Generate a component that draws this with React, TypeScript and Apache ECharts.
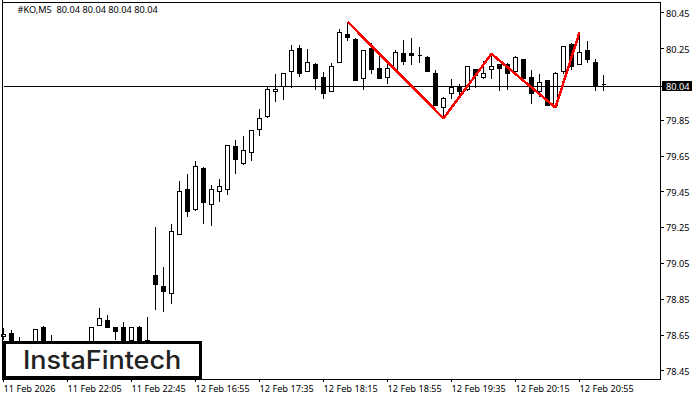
import React, { useEffect, useRef } from "react";
import * as echarts from "echarts";

const header = "#KO,M5  80.04 80.04 80.04 80.04";
const lastPrice = 80.04;
const priceTicks = [78.45, 78.65, 78.85, 79.05, 79.25, 79.45, 79.65, 79.85, 80.04, 80.25, 80.45];
const timeTicks = [
  "11 Feb 2026", "11 Feb 22:05", "11 Feb 22:45", "12 Feb 16:55", "12 Feb 17:35",
  "12 Feb 18:15", "12 Feb 18:55", "12 Feb 19:35", "12 Feb 20:15", "12 Feb 20:55",
];
const opens = [
  78.64, 78.66, 78.59, 78.58, 78.58, 78.69, 78.60, 78.58, 78.57, 78.59,
  78.58, 78.60, 78.70, 78.73, 78.69, 78.69, 78.62, 78.69, 78.62, 78.98,
  78.92, 78.88, 79.21, 79.46, 79.35, 79.58, 79.38, 79.45, 79.46, 79.70,
  79.61, 79.67, 79.80, 79.87, 80.01, 80.04, 80.12, 80.25, 80.12, 80.16,
  80.09, 80.01, 80.17, 80.33, 80.30, 80.08, 80.25, 80.14, 80.09, 80.13,
  80.22, 80.22, 80.21, 80.20, 80.11, 79.92, 80.00, 80.04, 80.02, 80.13,
  80.09, 80.13, 80.16, 80.16, 80.12, 80.19, 80.09, 80.01, 80.07, 79.93,
  80.12, 80.27, 80.16, 80.24, 80.17, 80.05,
];
const closes = [
  78.65, 78.60, 78.58, 78.56, 78.68, 78.60, 78.58, 78.57, 78.59, 78.58,
  78.60, 78.69, 78.74, 78.69, 78.67, 78.62, 78.69, 78.61, 78.61, 78.93,
  78.89, 79.23, 79.45, 79.34, 79.59, 79.39, 79.46, 79.48, 79.71, 79.63,
  79.68, 79.79, 79.86, 80.02, 80.02, 80.11, 80.24, 80.11, 80.17, 80.08,
  80.00, 80.15, 80.34, 80.31, 80.07, 80.24, 80.13, 80.08, 80.14, 80.23,
  80.18, 80.21, 80.21, 80.12, 79.93, 79.97, 80.03, 80.01, 80.15, 80.10,
  80.11, 80.15, 80.14, 80.11, 80.20, 80.08, 80.00, 80.06, 79.93, 80.11,
  80.26, 80.15, 80.23, 80.19, 80.04, 80.05,
];
const lows = [
  78.62, 78.58, 78.55, 78.54, 78.56, 78.58, 78.55, 78.55, 78.55, 78.56,
  78.56, 78.58, 78.70, 78.69, 78.62, 78.60, 78.60, 78.59, 78.59, 78.79,
  78.78, 78.82, 79.21, 79.31, 79.34, 79.27, 79.26, 79.39, 79.43, 79.55,
  79.60, 79.62, 79.76, 79.86, 79.95, 79.96, 80.03, 80.09, 80.12, 80.02,
  79.97, 80.01, 80.17, 80.29, 80.07, 80.02, 80.11, 80.08, 80.05, 80.13,
  80.16, 80.16, 80.17, 80.12, 79.93, 79.86, 79.97, 79.98, 80.01, 80.03,
  80.08, 80.08, 80.01, 80.02, 80.12, 80.08, 79.94, 79.98, 79.93, 79.93,
  80.11, 80.13, 80.16, 80.17, 80.01, 80.01,
];
const highs = [
  78.69, 78.68, 78.64, 78.60, 78.68, 78.70, 78.65, 78.60, 78.60, 78.61,
  78.61, 78.69, 78.80, 78.76, 78.69, 78.72, 78.69, 78.70, 78.75, 79.25,
  79.03, 79.27, 79.51, 79.55, 79.62, 79.59, 79.49, 79.52, 79.71, 79.74,
  79.76, 79.79, 79.91, 80.04, 80.11, 80.11, 80.27, 80.27, 80.25, 80.17,
  80.12, 80.17, 80.36, 80.40, 80.31, 80.24, 80.28, 80.22, 80.18, 80.24,
  80.30, 80.31, 80.26, 80.21, 80.13, 79.98, 80.08, 80.05, 80.15, 80.13,
  80.18, 80.22, 80.16, 80.17, 80.21, 80.19, 80.13, 80.11, 80.07, 80.12,
  80.26, 80.28, 80.34, 80.29, 80.19, 80.10,
];
const patternBars = [43, 55, 61, 69, 72];
const patternPrices = [80.40, 79.86, 80.22, 79.92, 80.34];

const BARS_ON_AXIS = 83;
const TICK_EVERY = 8;
const FONT = "'Noto Sans', Arial, sans-serif";
const FONT_SIZE = 9.2;

const frameLine = (x1: number, y1: number, x2: number, y2: number) => ({
  type: "line",
  z: 10,
  silent: true,
  shape: { x1, y1, x2, y2 },
  style: { stroke: "#000000", lineWidth: 1 },
});

export default function App() {
  const ref = useRef<HTMLDivElement>(null);
  useEffect(() => {
    document.body.style.margin = "0";
    const chart = echarts.init(ref.current!, undefined, { renderer: "svg" });
    const categories = Array.from({ length: BARS_ON_AXIS }, (_, i) => String(i));
    chart.setOption({
      animation: false,
      backgroundColor: "#ffffff",
      textStyle: { fontFamily: FONT },
      title: {
        text: header,
        left: 17.5,
        top: 5,
        padding: 0,
        textStyle: { fontFamily: FONT, fontSize: FONT_SIZE, fontWeight: "normal", color: "#000" },
      },
      grid: { left: 3.5, top: 2, width: 656, height: 377 },
      xAxis: {
        type: "category",
        data: categories,
        boundaryGap: false,
        axisLine: { show: false },
        axisTick: {
          show: true,
          interval: TICK_EVERY - 1,
          length: 3,
          lineStyle: { color: "#000", width: 1 },
        },
        axisLabel: {
          interval: TICK_EVERY - 1,
          showMinLabel: true,
          showMaxLabel: false,
          hideOverlap: false,
          align: "left",
          margin: 5,
          fontFamily: FONT,
          fontSize: FONT_SIZE,
          color: "#000",
          formatter: (_: string, i: number) => timeTicks[i / TICK_EVERY] ?? "",
        },
        splitLine: { show: false },
      },
      yAxis: {
        type: "value",
        position: "right",
        offset: 1,
        min: 78.4036,
        max: 80.5098,
        axisLine: { show: false },
        axisTick: {
          show: true,
          length: 3,
          customValues: priceTicks,
          lineStyle: { color: "#000", width: 1 },
        },
        axisLabel: {
          customValues: priceTicks,
          margin: 1.5,
          fontFamily: FONT,
          fontSize: FONT_SIZE,
          color: "#000",
          formatter: (v: number) =>
            Math.abs(v - lastPrice) < 0.001 ? `{cur|${v.toFixed(2)}}` : `{n|${v.toFixed(2)}}`,
          rich: {
            n: {
              color: "#000",
              fontFamily: FONT,
              fontSize: FONT_SIZE,
              padding: [1, 3, 0, 4],
            },
            cur: {
              backgroundColor: "#000",
              color: "#fff",
              fontFamily: FONT,
              fontSize: FONT_SIZE,
              padding: [1, 3, 0, 4],
            },
          },
        },
        splitLine: { show: false },
      },
      series: [
        {
          type: "candlestick",
          barWidth: 4,
          data: opens.map((o, i) => [o, closes[i], lows[i], highs[i]]),
          itemStyle: {
            color: "#ffffff",
            color0: "#000000",
            borderColor: "#000000",
            borderColor0: "#000000",
            borderColorDoji: "#000000",
            borderWidth: 1,
          },
          markLine: {
            silent: true,
            symbol: "none",
            animation: false,
            label: { show: false },
            lineStyle: { color: "#000", type: "solid", width: 1 },
            data: [{ yAxis: lastPrice }],
          },
        },
        {
          type: "line",
          data: patternBars.map((b, i) => [b, patternPrices[i]]),
          symbol: "none",
          lineStyle: { color: "#ff0000", width: 2.5 },
          z: 5,
        },
      ],
      graphic: [
        frameLine(2.5, 0, 2.5, 380),
        frameLine(2, 2.5, 661, 2.5),
        frameLine(660.5, 2, 660.5, 380),
        frameLine(2, 379.5, 661, 379.5),
        {
          type: "rect",
          z: 100,
          silent: true,
          shape: { x: 4, y: 342, width: 196, height: 35 },
          style: { fill: "#fff", stroke: "#000", lineWidth: 3 },
        },
        {
          type: "text",
          z: 101,
          silent: true,
          x: 23,
          y: 347.5,
          scaleX: 1.08,
          style: {
            text: "InstaFintech",
            fontFamily: "Inter, sans-serif",
            fontSize: 25,
            fontWeight: 500,
            fill: "#222",
          },
        },
      ],
    });
    return () => chart.dispose();
  }, []);
  return (
    <>
      <style>{"svg path, svg line, svg rect, svg polyline { shape-rendering: crispEdges; }"}</style>
      <div ref={ref} style={{ width: 700, height: 400 }} />
    </>
  );
}
